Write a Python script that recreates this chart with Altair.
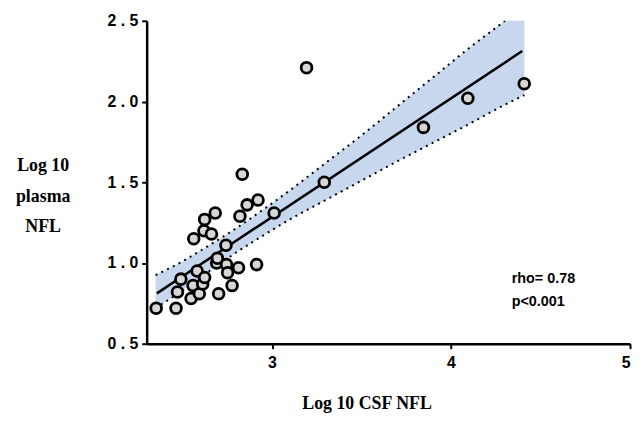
import altair as alt
import pandas as pd

# Scatter points
csf_nfl = [2.353, 2.464, 2.472, 2.491, 2.548, 2.559, 2.563, 2.582, 2.594, 2.613,
           2.624, 2.620, 2.624, 2.662, 2.683, 2.691, 2.695, 2.702, 2.743, 2.746,
           2.752, 2.777, 2.813, 2.821, 2.834, 2.861, 2.914, 2.922, 3.012, 3.193,
           3.292, 3.846, 4.094, 4.409]
plasma_nfl = [0.72, 0.72, 0.82, 0.90, 0.78, 0.86, 1.15, 0.95, 0.81, 0.87,
              0.91, 1.20, 1.27, 1.18, 1.31, 1.00, 1.03, 0.81, 1.11, 0.99,
              0.94, 0.86, 0.97, 1.29, 1.55, 1.36, 0.99, 1.39, 1.31, 2.21,
              1.50, 1.84, 2.02, 2.11]

# Regression line end points
fit_x = [2.357, 4.398]
fit_y = [0.812, 2.313]

# Confidence band
band_x = [2.35, 2.5, 2.65, 2.8, 2.95, 3.1, 3.3, 3.5, 3.7, 3.9, 4.1, 4.3, 4.41]
band_hi = [0.925, 1.01, 1.11, 1.215, 1.33, 1.45, 1.62, 1.79, 1.97, 2.15, 2.33, 2.50, 2.60]
band_lo = [0.72, 0.83, 0.95, 1.065, 1.17, 1.27, 1.39, 1.51, 1.63, 1.745, 1.86, 1.98, 2.04]

# Annotation
note_text = ["rho= 0.78", "p<0.001"]
note_x = [4.339, 4.339]
note_y = [0.899, 0.758]

x_ticks = [3, 4, 5]
y_ticks = [0.5, 1.0, 1.5, 2.0, 2.5]

pts = pd.DataFrame({"x": csf_nfl, "y": plasma_nfl})
fit = pd.DataFrame({"x": fit_x, "y": fit_y})
band = pd.DataFrame({"x": band_x, "hi": band_hi, "lo": band_lo})
notes = pd.DataFrame({"t": note_text, "x": note_x, "y": note_y})

xs = alt.Scale(domain=[2.3, 5], nice=False, zero=False)
ys = alt.Scale(domain=[0.5, 2.5], nice=False, zero=False)

x_axis = alt.Axis(values=x_ticks, format="d", grid=False,
                  labelFont="Liberation Sans", labelFontWeight="bold", labelFontSize=16,
                  title="Log 10 CSF NFL", titleFont="Liberation Serif",
                  titleFontWeight="bold", titleFontSize=18, titleColor="black",
                  titleX=222, titleY=60, titleAlign="center", titleBaseline="middle",
                  labelPadding=6)
y_axis = alt.Axis(values=y_ticks, grid=False,
                  labelFont="Liberation Sans", labelFontWeight="bold", labelFontSize=16,
                  labelExpr="replace(format(datum.value, '.1f'), '.', ' . ')",
                  title=["Log 10", "plasma", "NFL"], titleFont="Liberation Serif",
                  titleFontWeight="bold", titleFontSize=18, titleColor="black",
                  titleAngle=0, titleX=-105, titleY=146, titleAlign="center",
                  titleBaseline="middle", titleLineHeight=31, labelPadding=4)

area = alt.Chart(band).mark_area(color="#c6d7ee", opacity=1, interpolate="monotone",
                                 clip=True).encode(
    x=alt.X("x:Q", scale=xs, axis=x_axis),
    y=alt.Y("lo:Q", scale=ys, axis=y_axis),
    y2="hi:Q",
)
upper = alt.Chart(band).mark_line(color="black", strokeWidth=2, strokeDash=[2, 4.5],
                                  interpolate="monotone", clip=True).encode(
    x=alt.X("x:Q", scale=xs), y=alt.Y("hi:Q", scale=ys))
lower = alt.Chart(band).mark_line(color="black", strokeWidth=2, strokeDash=[2, 4.5],
                                  interpolate="monotone", clip=True).encode(
    x=alt.X("x:Q", scale=xs), y=alt.Y("lo:Q", scale=ys))
line = alt.Chart(fit).mark_line(color="black", strokeWidth=2.5).encode(
    x=alt.X("x:Q", scale=xs), y=alt.Y("y:Q", scale=ys))
points = alt.Chart(pts).mark_point(shape="circle", size=118, fill="#d6d6d6",
                                   fillOpacity=1, stroke="black", strokeWidth=2.8,
                                   opacity=1).encode(
    x=alt.X("x:Q", scale=xs), y=alt.Y("y:Q", scale=ys))
text = alt.Chart(notes).mark_text(align="left", baseline="middle", font="Liberation Sans",
                                  fontWeight="bold", fontSize=14.5, color="black").encode(
    x=alt.X("x:Q", scale=xs), y=alt.Y("y:Q", scale=ys), text="t:N")

chart = alt.layer(area, upper, lower, line, points, text).properties(
    width=488, height=326,
    padding={"left": 140, "top": 11, "right": 3, "bottom": 68},
    autosize=alt.AutoSizeParams(type="none"),
    background="white",
).configure_view(stroke=None).configure_axis(
    domainColor="black", domainWidth=2.5, tickColor="black", tickWidth=2, tickSize=5,
    labelColor="black",
)

chart.save("out.html", embed_options={"renderer": "svg", "actions": False})
